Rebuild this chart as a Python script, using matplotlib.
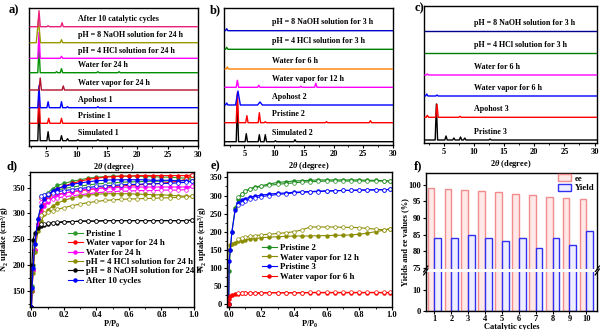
import matplotlib
matplotlib.use('Agg')
import matplotlib.pyplot as plt
from matplotlib.ticker import MultipleLocator

plt.rcParams['font.family'] = 'Liberation Serif'
plt.rcParams['font.weight'] = 'bold'
plt.rcParams['axes.labelweight'] = 'bold'
plt.rcParams['mathtext.fontset'] = 'custom'
plt.rcParams['mathtext.rm'] = 'Liberation Serif:bold'
plt.rcParams['mathtext.it'] = 'Liberation Serif:italic:bold'
plt.rcParams['mathtext.bf'] = 'Liberation Serif:bold'
plt.rcParams['axes.linewidth'] = 1.0

# ---------------- XRD data: (label, colour, baseline offset, peaks (2theta, height[, half width]))
xrd_a_labels = ['Simulated 1', 'Pristine 1', 'Apohost 1', 'Water vapor for 24 h', 'Water for 24 h',
                'pH = 4 HCl solution for 24 h', 'pH = 8 NaOH solution for 24 h', 'After 10 catalytic cycles']
xrd_a_colors = ['#000000', '#FF0000', '#0000FF', '#B0102A', '#009000', '#FF00FF', '#9A9A00', '#E8207A']
xrd_a_offsets = [5.3, 22.7, 38.3, 56, 73.3, 87.7, 103.3, 119.3]
xrd_a_peaks = [
    [(3.8, 38), (5.3, 9), (7.5, 5), (8.5, 2), (10.2, 1), (13.5, 1)],
    [(3.8, 32), (5.4, 5), (7.5, 5)],
    [(3.8, 22), (5.3, 6), (7.5, 6), (8.5, 1), (13.5, 1)],
    [(4.0, 12), (7.8, 4)],
    [(3.8, 25), (6.7, 1), (7.5, 4), (13.5, 1), (17.0, 1)],
    [(3.8, 26), (7.5, 2)],
    [(3.7, 23, 0.35), (7.5, 3)],
    [(3.8, 16), (5.3, 1), (7.6, 4)],
]

xrd_b_labels = ['Simulated 2', 'Pristine 2', 'Apohost 2', 'Water vapor for 12 h', 'Water for 6 h',
                'pH = 4 HCl solution for 3 h', 'pH = 8 NaOH solution for 3 h']
xrd_b_colors = ['#000000', '#FF0000', '#0000FF', '#FF00FF', '#FF8000', '#008000', '#0000CC']
xrd_b_offsets = [3.3, 22.3, 40, 57.7, 76, 95.7, 114.3]
xrd_b_peaks = [
    [(3.8, 38), (5.3, 8), (7.5, 7), (8.5, 7), (10.2, 1), (13.5, 2)],
    [(3.8, 30), (5.4, 7), (7.5, 10), (8.5, 1), (18.8, 1), (26.2, 2)],
    [(2.0, 2), (3.9, 14, 0.4), (7.6, 3, 0.4)],
    [(3.8, 7), (7.4, 2), (14.5, 1), (17.0, 4)],
    [(2.1, 2)],
    [(2.0, 2)],
    [(2.0, 2)],
]

xrd_c_labels = ['Pristine 3', 'Apohost 3', 'Water vapor for 6 h', 'Water for 6 h',
                'pH = 4 HCl solution for 3 h', 'pH = 8 NaOH solution for 3 h']
xrd_c_colors = ['#000000', '#FF0000', '#0000FF', '#FF00FF', '#008000', '#000090']
xrd_c_offsets = [2.7, 25.4, 46.7, 67.7, 89.4, 111.7]
xrd_c_peaks = [
    [(3.8, 36), (5.4, 4), (6.7, 2), (7.8, 3), (8.5, 2), (12.7, 1)],
    [(2.3, 2), (3.9, 13), (7.7, 1)],
    [(2.2, 2), (3.9, 1)],
    [(2.3, 1)],
    [],
    [],
]

# ---------------- N2 isotherms
p_ads = [0.0, 0.003, 0.01, 0.02, 0.04, 0.06, 0.08, 0.1, 0.13, 0.16, 0.2, 0.25, 0.3, 0.35,
         0.4, 0.45, 0.5, 0.55, 0.6, 0.65, 0.7, 0.75, 0.8, 0.85, 0.9, 0.95, 0.99]
p_des = [0.99, 0.95, 0.9, 0.85, 0.8, 0.75, 0.7, 0.65, 0.6, 0.55, 0.5, 0.45, 0.4, 0.35,
         0.3, 0.25, 0.2, 0.16, 0.13, 0.1, 0.08, 0.06]

d_labels = ['Pristine 1', 'Water vapor for 24 h', 'Water for 24 h', 'pH = 4 HCl solution for 24 h',
            'pH = 8 NaOH solution for 24 h', 'After 10 cycles']
d_colors = ['#2E9A2E', '#FF0000', '#FF00FF', '#8C8C00', '#000000', '#0000FF']
d_ads = [
    [120, 160, 200, 240, 290, 315, 330, 340, 348, 354, 358, 362, 365, 368, 370, 371, 372, 372, 372, 372, 371, 371, 370, 370, 369, 368, 368],
    [120, 150, 190, 230, 280, 305, 320, 330, 340, 347, 353, 358, 362, 366, 368, 370, 371, 372, 372, 373, 373, 373, 373, 373, 373, 373, 374],
    [120, 150, 190, 230, 275, 300, 315, 322, 330, 335, 339, 342, 345, 347, 348, 349, 350, 350, 351, 351, 351, 351, 351, 351, 351, 351, 352],
    [120, 150, 185, 225, 265, 285, 298, 306, 314, 320, 325, 330, 333, 335, 337, 338, 338, 338, 338, 337, 337, 336, 336, 335, 334, 333, 333],
    [120, 200, 248, 262, 272, 276, 278, 280, 281, 282, 283, 284, 285, 285, 285, 286, 286, 286, 286, 286, 286, 286, 286, 286, 286, 286, 287],
    [120, 155, 195, 240, 290, 315, 328, 336, 343, 348, 352, 356, 359, 361, 363, 364, 365, 365, 365, 365, 365, 364, 364, 364, 363, 363, 362],
]
d_des = [
    [368, 364, 363, 363, 362, 362, 362, 361, 361, 360, 359, 358, 357, 355, 353, 351, 348, 345, 342, 339, 336, 333],
    [374, 366, 362, 360, 358, 357, 356, 355, 354, 353, 352, 350, 348, 346, 344, 342, 339, 337, 335, 333, 331, 329],
    [352, 346, 345, 345, 345, 344, 344, 344, 343, 343, 342, 341, 340, 338, 336, 334, 332, 330, 328, 326, 324, 322],
    [333, 332, 331, 330, 330, 329, 329, 328, 328, 327, 326, 325, 323, 321, 318, 315, 311, 308, 305, 302, 300, 297],
    [287, 286, 286, 286, 286, 286, 286, 286, 286, 286, 286, 286, 285, 285, 285, 284, 284, 283, 282, 281, 280, 279],
    [362, 360, 359, 358, 358, 357, 357, 356, 356, 355, 354, 353, 352, 350, 348, 346, 344, 342, 340, 338, 336, 334],
]

e_labels = ['Pristine 2', 'Water vapor for 12 h', 'Pristine 3', 'Water vapor for 6 h']
e_colors = ['#1E8C1E', '#8C8C00', '#0000FF', '#FF0000']
e_ads = [
    [0, 90, 150, 200, 265, 290, 305, 312, 318, 323, 327, 332, 336, 338, 340, 341, 342, 343, 343, 343, 343, 343, 343, 342, 342, 341, 340],
    [0, 150, 163, 167, 170, 173, 175, 177, 179, 181, 183, 185, 186, 187, 188, 188, 188, 189, 189, 190, 190, 191, 193, 196, 200, 204, 208],
    [0, 120, 150, 200, 260, 280, 287, 291, 295, 298, 301, 304, 306, 307, 309, 310, 311, 312, 313, 313, 314, 314, 315, 315, 316, 316, 317],
    [0, 15, 22, 25, 27, 28, 29, 29, 30, 30, 30, 31, 31, 31, 31, 31, 31, 31, 31, 31, 31, 31, 31, 31, 31, 31, 31],
]
e_des = [
    [340, 340, 340, 340, 340, 340, 340, 340, 340, 339, 338, 337, 335, 333, 331, 328, 325, 322, 318, 312, 305, 295],
    [208, 205, 207, 209, 211, 212, 212, 213, 213, 213, 213, 205, 200, 197, 195, 193, 191, 189, 187, 185, 183, 180],
    [317, 316, 316, 315, 315, 314, 314, 313, 312, 311, 310, 309, 307, 305, 303, 300, 297, 293, 290, 285, 280, 275],
    [32, 32, 32, 32, 32, 32, 32, 32, 32, 32, 32, 31, 31, 31, 31, 31, 31, 31, 30, 30, 30, 30],
]

# ---------------- catalytic cycles
cycles = [1, 2, 3, 4, 5, 6, 7, 8, 9, 10]
ee_vals = [99.0, 98.8, 98.5, 98.3, 98.0, 97.3, 97.0, 96.3, 96.0, 95.7]
yield_vals = [84, 84, 85, 84, 83, 84, 81, 84, 82, 86]

W, H = 600.0, 330.0


def box(l, t, r, b):
    return [l / W, 1 - b / H, (r - l) / W, (b - t) / H]


def spikes(peaks, base, x0, x1):
    xs, ys = [x0], [base]
    for pk in sorted(peaks):
        w = pk[2] if len(pk) > 2 else 0.2
        xs += [pk[0] - w, pk[0], pk[0] + w]
        ys += [base, base + pk[1], base]
    xs.append(x1)
    ys.append(base)
    return xs, ys


def xrd_panel(ax, labels, colors, offsets, peaks, xlim, ytop, label_x, label_dy):
    for i in range(len(labels)):
        xs, ys = spikes(peaks[i], offsets[i], xlim[0] + 0.15, xlim[1])
        ax.plot(xs, ys, color=colors[i], lw=1.0, zorder=2 + i)
        ax.text(label_x, offsets[i] + label_dy, labels[i], fontsize=5.8, fontweight='bold',
                va='center', ha='left')
    ax.set_xlim(*xlim)
    ax.set_ylim(0, ytop)
    ax.set_yticks([])
    ax.set_xticks([5, 10, 15, 20, 25, 30])
    ax.xaxis.set_minor_locator(MultipleLocator(2.5))
    ax.tick_params(axis='x', direction='out', length=2.5, width=0.8, labelsize=6, pad=1)
    ax.tick_params(axis='x', which='minor', direction='out', length=1.5, width=0.6)
    ax.set_xlabel('2$\\theta$ (degree)', fontsize=6, labelpad=1.5)


fig = plt.figure(figsize=(6, 3.3), dpi=100)

ax_a = fig.add_axes(box(29.3, 8, 198, 146))
ax_b = fig.add_axes(box(224.3, 8, 393, 145))
ax_c = fig.add_axes(box(424, 6, 597, 142.7))
xrd_panel(ax_a, xrd_a_labels, xrd_a_colors, xrd_a_offsets, xrd_a_peaks, (2.2, 30), 138, 10.2, 7.4)
xrd_panel(ax_b, xrd_b_labels, xrd_b_colors, xrd_b_offsets, xrd_b_peaks, (1.6, 30), 137, 9.6, 8.4)
xrd_panel(ax_c, xrd_c_labels, xrd_c_colors, xrd_c_offsets, xrd_c_peaks, (1.75, 30.4), 136.7, 9.95, 8.3)


def iso_panel(ax, labels, colors, ads, des):
    handles = []
    for i in range(len(labels)):
        h, = ax.plot(p_ads, ads[i], color=colors[i], lw=0.8, marker='o', ms=2.2,
                     mfc=colors[i], mec=colors[i], label=labels[i])
        ax.plot(p_des, des[i], color=colors[i], lw=0.8, marker='o', ms=2.6,
                mfc='white', mec=colors[i], mew=0.5)
        handles.append(h)
    ax.set_xlim(-0.012, 1.0)
    ax.set_xticks([0.0, 0.2, 0.4, 0.6, 0.8, 1.0])
    ax.set_xticklabels(['0.0', '0.2', '0.4', '0.6', '0.8', '1.0'])
    ax.xaxis.set_minor_locator(MultipleLocator(0.1))
    ax.tick_params(direction='out', length=2.5, width=0.8, labelsize=6, pad=0.8)
    ax.tick_params(which='minor', direction='out', length=1.5, width=0.6)
    ax.set_xlabel('P/P$_0$', fontsize=6, labelpad=0)
    ax.set_ylabel('N$_2$ uptake (cm$^3$/g)', fontsize=6, labelpad=0.5)
    return handles


ax_d = fig.add_axes(box(29.5, 172, 194, 306.5))
hd = iso_panel(ax_d, d_labels, d_colors, d_ads, d_des)
ax_d.set_ylim(120, 380)
ax_d.set_yticks([150, 200, 250, 300, 350])
ax_d.yaxis.set_minor_locator(MultipleLocator(25))
ax_d.legend(handles=hd, loc='upper left', bbox_to_anchor=(0.232, 0.57), frameon=False,
            fontsize=6.3, handlelength=1.7, handletextpad=0.4, labelspacing=0.14,
            borderpad=0, borderaxespad=0)

ax_e = fig.add_axes(box(226.7, 172, 392, 306.5))
he = iso_panel(ax_e, e_labels, e_colors, e_ads, e_des)
ax_e.set_ylim(-7, 365)
ax_e.set_yticks([0, 50, 100, 150, 200, 250, 300, 350])
ax_e.yaxis.set_minor_locator(MultipleLocator(25))
ax_e.legend(handles=he, loc='upper left', bbox_to_anchor=(0.212, 0.466), frameon=False,
            fontsize=6.3, handlelength=1.7, handletextpad=0.4, labelspacing=0.17,
            borderpad=0, borderaxespad=0)

# ---------------- f) broken-axis bars
ax_ft = fig.add_axes(box(425.7, 172.7, 597.3, 269))
ax_fb = fig.add_axes(box(425.7, 272, 597.3, 310.7))
bw = 0.4
ee_x = [c - bw / 2 for c in cycles]
yi_x = [c + bw / 2 for c in cycles]
for ax in (ax_ft, ax_fb):
    ax.bar(ee_x, ee_vals, width=bw, color='#FFE8E8', edgecolor='#F28C8C', lw=1.0, label='ee')
    ax.bar(yi_x, yield_vals, width=bw, color='#EEEEFF', edgecolor='#3030F0', lw=1.0, label='Yield')
    ax.set_xlim(0.48, 10.65)
    ax.tick_params(direction='out', length=2.5, width=0.8, labelsize=6, pad=0.8)
ax_ft.set_ylim(74.6, 103.7)
ax_ft.set_yticks([75, 80, 85, 90, 95, 100])
ax_ft.spines['bottom'].set_visible(False)
ax_ft.tick_params(axis='x', bottom=False, labelbottom=False)
ax_fb.set_ylim(0, 18.7)
ax_fb.set_yticks([0, 10])
ax_fb.spines['top'].set_visible(False)
ax_fb.set_xticks(cycles)
ax_fb.set_xlabel('Catalytic cycles', fontsize=6, labelpad=0)
ax_ft.legend(loc='upper left', bbox_to_anchor=(0.773, 0.986), frameon=False, fontsize=6.3,
             handlelength=1.5, handleheight=0.9, handletextpad=0.4, labelspacing=0.1,
             borderpad=0, borderaxespad=0)
for ax, yy, k in ((ax_ft, 0.0, 0.03), (ax_fb, 1.0, 0.075)):
    for xx in (0.0, 1.0):
        ax.plot([xx - 0.012, xx + 0.012], [yy - k, yy + k],
                transform=ax.transAxes, color='black', lw=0.9, clip_on=False)
fig.text(405 / W, 1 - 241.7 / H, 'Yields and ee values (%)', rotation=90, fontsize=6,
         fontweight='bold', ha='center', va='center')

# panel letters
for lab, px, py in [('a)', 14, 10), ('b)', 215, 10), ('c)', 419, 8),
                    ('d)', 12, 166), ('e)', 215, 166), ('f)', 418, 166)]:
    fig.text(px / W, 1 - py / H, lab, fontsize=9, fontweight='bold', ha='center', va='center')

fig.savefig('out.png', dpi=100)
